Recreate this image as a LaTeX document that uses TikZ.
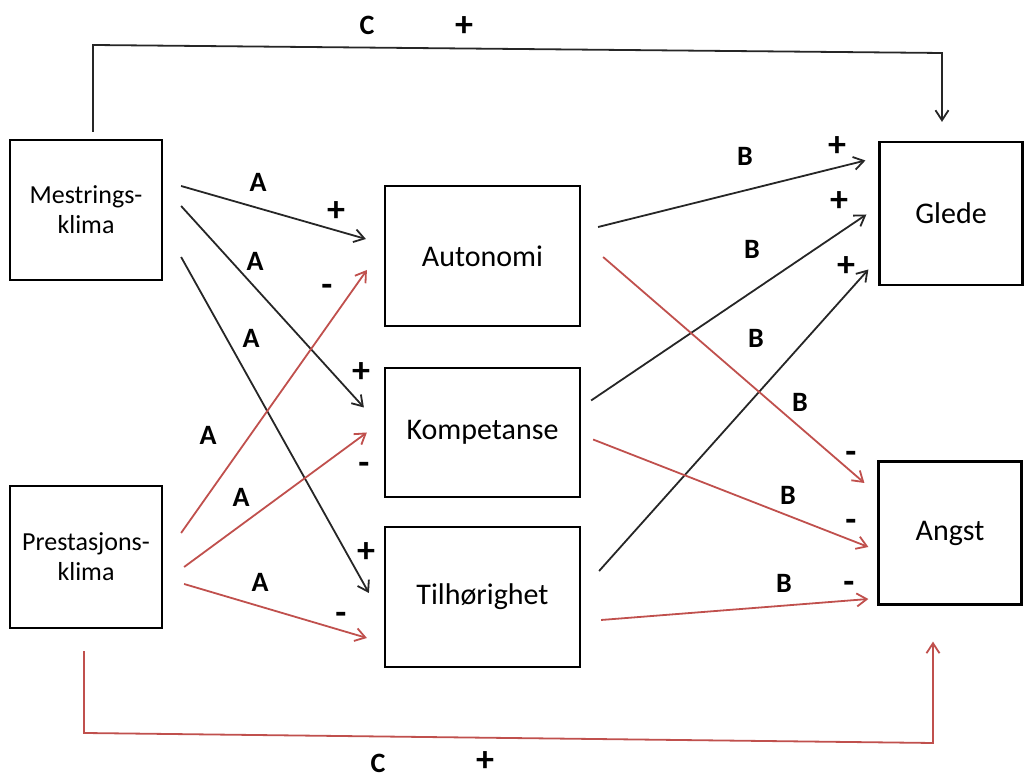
\documentclass[tikz,border=0pt]{standalone}
\usepackage{fontspec}
\setmainfont{Carlito}
\usepackage{xcolor}
\usetikzlibrary{arrows.meta}
\definecolor{redline}{RGB}{192,80,77}

\begin{document}
\begin{tikzpicture}[
  x=0.5pt, y=-0.5pt,
  box/.style={draw, line width=1.1pt, align=center, inner sep=0pt, font=\fontsize{15}{18}\selectfont},
  clim/.style={box, minimum width=76pt, minimum height=70pt, font=\fontsize{13}{15}\selectfont},
  need/.style={box, minimum width=97.5pt, minimum height=70pt},
  outc/.style={box, minimum width=71.5pt, minimum height=71.5pt},
  lbl/.style={font=\bfseries\fontsize{14}{16}\selectfont, inner sep=0pt},
  sgn/.style={font=\bfseries\fontsize{18}{20}\selectfont, inner sep=0pt},
  arr/.style={-{Straight Barb[length=5pt,width=6.5pt]}, line width=0.9pt},
  posarr/.style={arr, black!85},
  negarr/.style={arr, redline},
]
\useasboundingbox (0,0) rectangle (1025,779);
% boxes
\node[clim] (mest) at (86,210) {Mestrings-\\klima};
\node[clim, minimum height=71pt] (prest) at (86,557) {Prestasjons-\\klima};
\node[need] (auto) at (482.5,256) {Autonomi};
\node[need, minimum height=64.5pt] (komp) at (482.5,432.5) {Kompetanse};
\node[need] (tilh) at (482.5,597) {Tilhørighet};
\node[outc] (glede) at (951,213.5) {Glede};
\node[outc] (angst) at (950,533) {Angst};
% A paths
\draw[posarr] ([shift={(18,-24)}]mest.east) -- ([shift={(-18,-17)}]auto.west);
\draw[posarr] ([shift={(18,-4)}]mest.east) -- ([shift={(-20,-25)}]komp.west);
\draw[posarr] ([shift={(18,47)}]mest.east) -- ([shift={(-15,-4)}]tilh.west);
\draw[negarr] ([shift={(18,-24)}]prest.east) -- ([shift={(-17,14)}]auto.west);
\draw[negarr] ([shift={(21,10)}]prest.east) -- ([shift={(-17,0)}]komp.west);
\draw[negarr] ([shift={(21,27)}]prest.east) -- ([shift={(-17,41)}]tilh.west);
% B paths
\draw[posarr] ([shift={(17,-29)}]auto.east) -- ([shift={(-13,-53)}]glede.west);
\draw[posarr] ([shift={(10,-32)}]komp.east) -- ([shift={(-12,1)}]glede.west);
\draw[posarr] ([shift={(18,-26)}]tilh.east) -- ([shift={(-10,56)}]glede.west);
\draw[negarr] ([shift={(22,1)}]auto.east) -- ([shift={(-13,-50)}]angst.west);
\draw[negarr] ([shift={(12,7)}]komp.east) -- ([shift={(-9,14)}]angst.west);
\draw[negarr] ([shift={(20,23)}]tilh.east) -- ([shift={(-9,66)}]angst.west);
% C paths
\coordinate (ctopl) at (93,45);
\coordinate (ctopr) at (942,53);
\coordinate (cbotl) at (84,733);
\coordinate (cbotr) at (933,743);
\draw[posarr] ([shift={(7,-7)}]mest.north) -- (ctopl) -- (ctopr) -- ([shift={(-9,-19)}]glede.north);
\draw[negarr] ([shift={(-2,22)}]prest.south) -- (cbotl) -- (cbotr) -- ([shift={(-17,36)}]angst.south);
% labels
\node[lbl] (ctop) at (367,25) {C};   \node[sgn] (ctopsg) at (464,27) {+};
\node[lbl] (cbot) at (378,763) {C};  \node[sgn] (cbotsg) at (485,762) {+};
\node[lbl] (a1) at (258,182) {A};    \node[sgn] (a1sg) at (336,212) {+};
\node[lbl] (a2) at (255,261) {A};    \node[sgn] (a4sg) at (327,290) {-};
\node[lbl] (a3) at (251,338) {A};    \node[sgn] (a2sg) at (361,373) {+};
\node[lbl] (a4) at (208,435) {A};    \node[sgn] (a5sg) at (364,468) {-};
\node[lbl] (a5) at (241,497) {A};    \node[sgn] (a3sg) at (366,553) {+};
\node[lbl] (a6) at (260,582) {A};    \node[sgn] (a6sg) at (341,618) {-};
\node[lbl] (b1) at (745,156) {B};    \node[sgn] (b1sg) at (837,147) {+};
\node[lbl] (b2) at (752,249) {B};    \node[sgn] (b2sg) at (839,202) {+};
\node[lbl] (b3) at (756,338) {B};    \node[sgn] (b3sg) at (846,267) {+};
\node[lbl] (b4) at (800,402) {B};    \node[sgn] (b4sg) at (851,457) {-};
\node[lbl] (b5) at (788,495) {B};    \node[sgn] (b5sg) at (851,525) {-};
\node[lbl] (b6) at (784,583) {B};    \node[sgn] (b6sg) at (849,587) {-};
\end{tikzpicture}
\end{document}
